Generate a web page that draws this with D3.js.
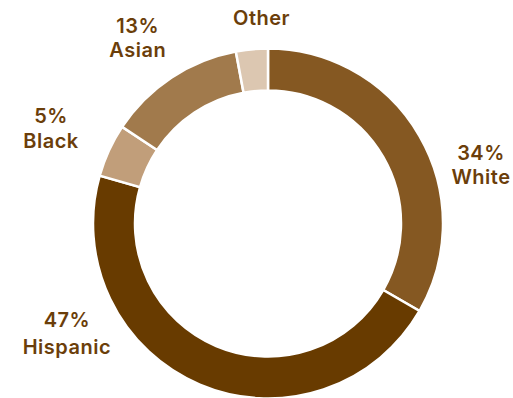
<!DOCTYPE html>
<html>
<head>
<meta charset="utf-8">
<script src="https://cdn.jsdelivr.net/npm/d3@7"></script>
<style>
  html, body { margin: 0; padding: 0; background: #fff; }
  svg { display: block; }
</style>
</head>
<body>
<svg id="chart" width="513" height="398"></svg>
<script>
// Population share by group (percent)
const categories = ["White", "Hispanic", "Black", "Asian", "Other"];
const values = [34, 47, 5, 13, 3];
const valueLabels = ["34%", "47%", "5%", "13%", ""];
const colors = ["#855822", "#683b00", "#c19e7a", "#a17a4c", "#dcc7b1"];

// Label placement: angle offset from slice mid (degrees), distance from centre, line gap
const labelLayout = {
  White:    { dAngle: 14.5, r: 221, gap: 24.5 },
  Hispanic: { dAngle: 38.5, r: 229, gap: 26.5 },
  Black:    { dAngle: -1,   r: 237, gap: 24.5 },
  Asian:    { dAngle: -1.5, r: 227, gap: 24.5 },
  Other:    { dAngle: 3.5,  r: 206, gap: 24.5 }
};

const svg = d3.select("#chart");
const cx = 268, cy = 223.5;
const outerR = 175, innerR = 133;

const g = svg.append("g").attr("transform", `translate(${cx},${cy})`);

const data = categories.map((c, i) => ({ name: c, value: values[i], label: valueLabels[i], color: colors[i] }));

const pie = d3.pie().sort(null).value(d => d.value);
const arc = d3.arc().innerRadius(innerR).outerRadius(outerR);
const arcs = pie(data);

g.selectAll("path.slice")
  .data(arcs)
  .join("path")
  .attr("class", "slice")
  .attr("d", arc)
  .attr("fill", d => d.data.color)
  .attr("stroke", "#fff")
  .attr("stroke-width", 2.5);

const textColor = "#6b3e0a";
const fontSize = 20;

const labels = g.selectAll("g.label")
  .data(arcs)
  .join("g")
  .attr("class", "label")
  .attr("transform", d => {
    const L = labelLayout[d.data.name];
    const a = (d.startAngle + d.endAngle) / 2 + L.dAngle * Math.PI / 180;
    return `translate(${L.r * Math.sin(a)},${-L.r * Math.cos(a)})`;
  });

labels.each(function(d) {
  const sel = d3.select(this);
  const L = labelLayout[d.data.name];
  const lines = d.data.label ? [d.data.label, d.data.name] : [d.data.name];
  const n = lines.length;
  lines.forEach((t, i) => {
    sel.append("text")
      .attr("text-anchor", "middle")
      .attr("x", 0)
      .attr("y", (i - (n - 1) / 2) * L.gap + fontSize * 0.37)
      .attr("fill", textColor)
      .style("font-family", "Inter, 'Open Sans', sans-serif")
      .style("font-weight", 600)
      .style("font-size", fontSize + "px")
      .style("letter-spacing", "0.5px")
      .text(t);
  });
});
</script>
</body>
</html>
